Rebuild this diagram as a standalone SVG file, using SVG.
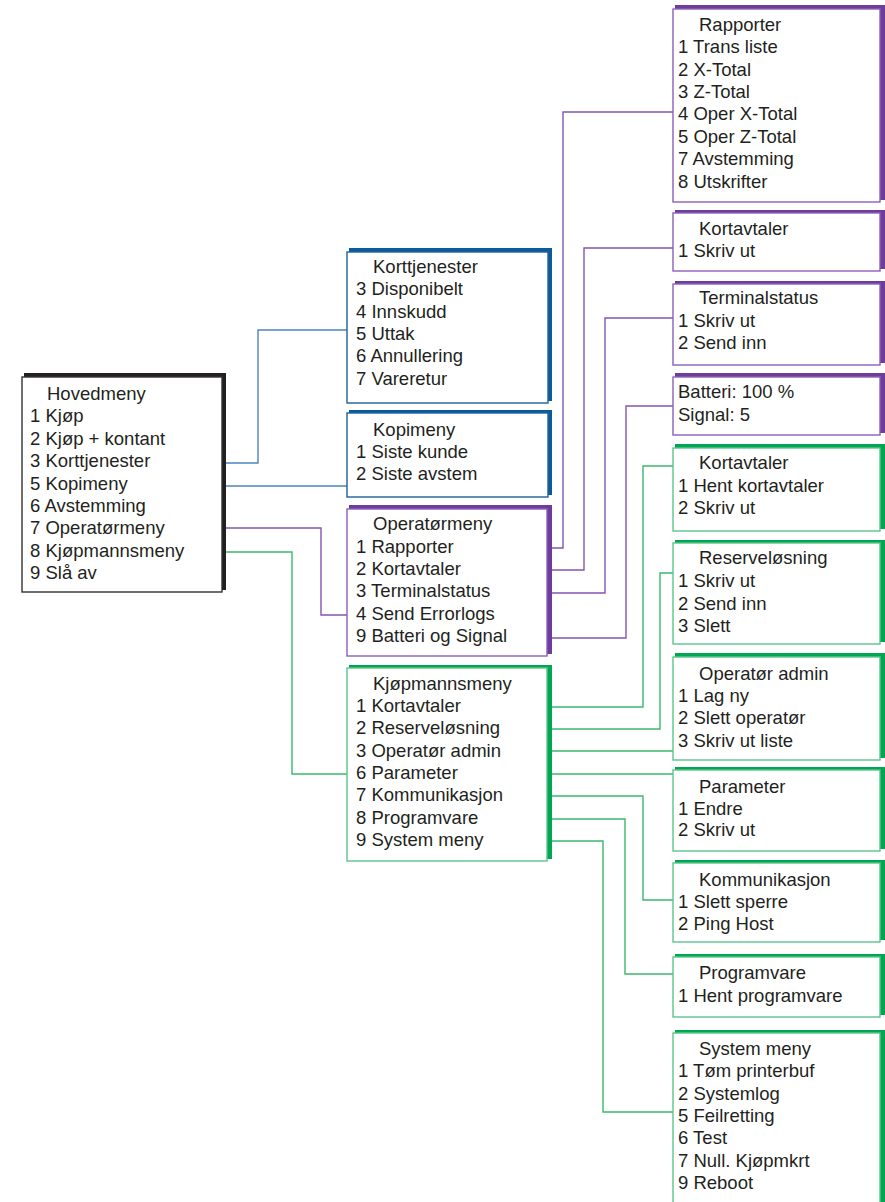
<svg xmlns="http://www.w3.org/2000/svg" width="885" height="1202" viewBox="0 0 885 1202">
<style>
text{font-family:"Liberation Sans",Arial,sans-serif;font-size:18.5px;fill:#231f20}
.box{fill:#fff;stroke-width:1.4}
.k .sh{fill:#231f20}.k .box{stroke:#333}
.b .sh{fill:#0d5a99}.b .box{stroke:#1f5f9e}
.p .sh{fill:#6e3d9c}.p .box{stroke:#8c5fb8}
.g .sh{fill:#00a651}.g .box{stroke:#5cc58d}
.c{fill:none;stroke-width:1.4}
.cb{stroke:#4a86bc}.cp{stroke:#8456b0}.cg{stroke:#3bb96b}
</style>
<rect width="885" height="1202" fill="#fff"/>
<g id="connectors">
<polyline class="c cb" points="204,463 258,463 258,330 347,330"/>
<polyline class="c cb" points="204,486 347,486"/>
<polyline class="c cp" points="204,528 321,528 321,615 347,615"/>
<polyline class="c cg" points="204,552 292,552 292,774 347,774"/>
<polyline class="c cp" points="524,548 563,548 563,112 673,112"/>
<polyline class="c cp" points="524,570 584,570 584,248 673,248"/>
<polyline class="c cp" points="524,593 605,593 605,318 673,318"/>
<polyline class="c cp" points="524,638 626,638 626,406 673,406"/>
<polyline class="c cg" points="524,707 643,707 643,466 673,466"/>
<polyline class="c cg" points="524,729 660,729 660,573 673,573"/>
<polyline class="c cg" points="524,751 673,751"/>
<polyline class="c cg" points="524,774 673,774"/>
<polyline class="c cg" points="524,796 643,796 643,900 673,900"/>
<polyline class="c cg" points="524,819 625,819 625,974 673,974"/>
<polyline class="c cg" points="524,841 603,841 603,1112 673,1112"/>
</g>
<g id="hovedmeny" class="k">
<rect class="sh" x="24" y="373" width="202" height="217"/>
<rect class="box" x="22" y="377" width="200" height="215"/>
<text x="47" y="400">Hovedmeny</text>
<text x="30" y="422">1 Kjøp</text>
<text x="30" y="445">2 Kjøp + kontant</text>
<text x="30" y="467">3 Korttjenester</text>
<text x="30" y="490">5 Kopimeny</text>
<text x="30" y="512">6 Avstemming</text>
<text x="30" y="534">7 Operatørmeny</text>
<text x="30" y="557">8 Kjøpmannsmeny</text>
<text x="30" y="579">9 Slå av</text>
</g>
<g id="korttjenester" class="b">
<rect class="sh" x="349" y="248" width="203" height="153"/>
<rect class="box" x="347" y="252" width="201" height="151"/>
<text x="373" y="273">Korttjenester</text>
<text x="356" y="295">3 Disponibelt</text>
<text x="356" y="318">4 Innskudd</text>
<text x="356" y="340">5 Uttak</text>
<text x="356" y="362">6 Annullering</text>
<text x="356" y="385">7 Vareretur</text>
</g>
<g id="kopimeny" class="b">
<rect class="sh" x="349" y="410" width="203" height="85"/>
<rect class="box" x="347" y="413" width="201" height="84"/>
<text x="373" y="436">Kopimeny</text>
<text x="356" y="458">1 Siste kunde</text>
<text x="356" y="480">2 Siste avstem</text>
</g>
<g id="operatormeny" class="p">
<rect class="sh" x="349" y="505" width="203" height="149"/>
<rect class="box" x="347" y="509" width="200" height="147"/>
<text x="373" y="530">Operatørmeny</text>
<text x="356" y="553">1 Rapporter</text>
<text x="356" y="575">2 Kortavtaler</text>
<text x="356" y="597">3 Terminalstatus</text>
<text x="356" y="620">4 Send Errorlogs</text>
<text x="356" y="642">9 Batteri og Signal</text>
</g>
<g id="kjopmannsmeny" class="g">
<rect class="sh" x="349" y="665" width="203" height="194"/>
<rect class="box" x="347" y="668" width="200" height="193"/>
<text x="373" y="690">Kjøpmannsmeny</text>
<text x="356" y="712">1 Kortavtaler</text>
<text x="356" y="734">2 Reserveløsning</text>
<text x="356" y="757">3 Operatør admin</text>
<text x="356" y="779">6 Parameter</text>
<text x="356" y="801">7 Kommunikasjon</text>
<text x="356" y="824">8 Programvare</text>
<text x="356" y="846">9 System meny</text>
</g>
<g id="rapporter" class="p">
<rect class="sh" x="675" y="5" width="210" height="195"/>
<rect class="box" x="673" y="9" width="207" height="193"/>
<text x="699" y="31">Rapporter</text>
<text x="678" y="53">1 Trans liste</text>
<text x="678" y="76">2 X-Total</text>
<text x="678" y="98">3 Z-Total</text>
<text x="678" y="120">4 Oper X-Total</text>
<text x="678" y="143">5 Oper Z-Total</text>
<text x="678" y="165">7 Avstemming</text>
<text x="678" y="188">8 Utskrifter</text>
</g>
<g id="kortavtaler-oper" class="p">
<rect class="sh" x="675" y="210" width="210" height="59"/>
<rect class="box" x="673" y="213" width="207" height="58"/>
<text x="699" y="235">Kortavtaler</text>
<text x="678" y="257">1 Skriv ut</text>
</g>
<g id="terminalstatus" class="p">
<rect class="sh" x="675" y="281" width="210" height="82"/>
<rect class="box" x="673" y="284" width="207" height="81"/>
<text x="699" y="304">Terminalstatus</text>
<text x="678" y="327">1 Skriv ut</text>
<text x="678" y="349">2 Send inn</text>
</g>
<g id="batteri" class="p">
<rect class="sh" x="675" y="373" width="210" height="60"/>
<rect class="box" x="673" y="377" width="207" height="58"/>
<text x="678" y="398">Batteri: 100 %</text>
<text x="678" y="421">Signal: 5</text>
</g>
<g id="kortavtaler-kjop" class="g">
<rect class="sh" x="675" y="444" width="210" height="85"/>
<rect class="box" x="673" y="448" width="207" height="83"/>
<text x="699" y="469">Kortavtaler</text>
<text x="678" y="492">1 Hent kortavtaler</text>
<text x="678" y="514">2 Skriv ut</text>
</g>
<g id="reservelosning" class="g">
<rect class="sh" x="675" y="540" width="210" height="102"/>
<rect class="box" x="673" y="543" width="207" height="101"/>
<text x="699" y="564">Reserveløsning</text>
<text x="678" y="587">1 Skriv ut</text>
<text x="678" y="610">2 Send inn</text>
<text x="678" y="632">3 Slett</text>
</g>
<g id="operator-admin" class="g">
<rect class="sh" x="675" y="653" width="210" height="105"/>
<rect class="box" x="673" y="657" width="207" height="103"/>
<text x="699" y="680">Operatør admin</text>
<text x="678" y="702">1 Lag ny</text>
<text x="678" y="724">2 Slett operatør</text>
<text x="678" y="747">3 Skriv ut liste</text>
</g>
<g id="parameter" class="g">
<rect class="sh" x="675" y="767" width="210" height="82"/>
<rect class="box" x="673" y="770" width="207" height="81"/>
<text x="699" y="793">Parameter</text>
<text x="678" y="815">1 Endre</text>
<text x="678" y="836">2 Skriv ut</text>
</g>
<g id="kommunikasjon" class="g">
<rect class="sh" x="675" y="860" width="210" height="80"/>
<rect class="box" x="673" y="863" width="207" height="79"/>
<text x="699" y="886">Kommunikasjon</text>
<text x="678" y="908">1 Slett sperre</text>
<text x="678" y="930">2 Ping Host</text>
</g>
<g id="programvare" class="g">
<rect class="sh" x="675" y="954" width="210" height="61"/>
<rect class="box" x="673" y="957" width="207" height="60"/>
<text x="699" y="979">Programvare</text>
<text x="678" y="1002">1 Hent programvare</text>
</g>
<g id="system-meny" class="g">
<rect class="sh" x="675" y="1030" width="210" height="180"/>
<rect class="box" x="673" y="1033" width="207" height="180"/>
<text x="699" y="1055">System meny</text>
<text x="678" y="1077">1 Tøm printerbuf</text>
<text x="678" y="1100">2 Systemlog</text>
<text x="678" y="1122">5 Feilretting</text>
<text x="678" y="1144">6 Test</text>
<text x="678" y="1167">7 Null. Kjøpmkrt</text>
<text x="678" y="1189">9 Reboot</text>
</g>
</svg>
